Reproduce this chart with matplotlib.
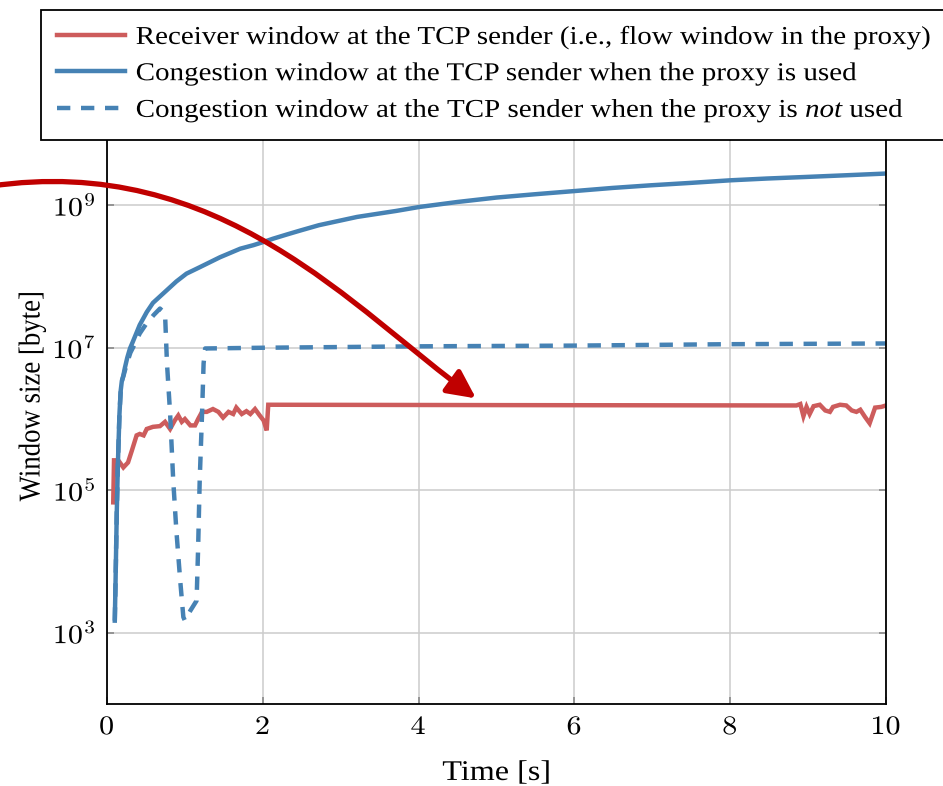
import numpy as np
import matplotlib
matplotlib.use("Agg")
import matplotlib.pyplot as plt
from matplotlib.path import Path
from matplotlib.patches import FancyArrowPatch
from matplotlib.patheffects import AbstractPathEffect
from matplotlib.transforms import Affine2D
from matplotlib.ticker import FixedLocator, NullLocator, FixedFormatter

plt.rcParams["font.family"] = ["Liberation Serif", "DejaVu Serif"]
plt.rcParams["mathtext.fontset"] = "cm"
plt.rcParams["mathtext.rm"] = "Liberation Serif"
plt.rcParams["mathtext.it"] = "Liberation Serif:italic"

# ---- data: time [s] and log10(window size [byte]) ----
rwnd_t = [0.08, 0.09, 0.145, 0.21, 0.27, 0.32, 0.38, 0.42, 0.47, 0.51, 0.59,
          0.68, 0.745, 0.81, 0.87, 0.915, 0.96, 1.00, 1.07, 1.13, 1.17, 1.22,
          1.28, 1.36, 1.43, 1.49, 1.56, 1.62, 1.66, 1.73, 1.79, 1.84, 1.90,
          1.96, 2.01, 2.05, 2.07, 5.0, 8.85, 8.90, 8.94, 8.98, 9.02, 9.07,
          9.15, 9.22, 9.28, 9.32, 9.41, 9.49, 9.56, 9.62, 9.67, 9.73, 9.79,
          9.86, 9.94, 10.0]
rwnd_log = [4.83, 5.42, 5.42, 5.32, 5.39, 5.56, 5.77, 5.79, 5.77, 5.86, 5.89,
            5.90, 5.96, 5.86, 5.98, 6.05, 5.96, 6.00, 5.91, 5.91, 6.00, 6.10,
            6.10, 6.14, 6.10, 6.02, 6.10, 6.07, 6.16, 6.07, 6.11, 6.07, 6.14,
            6.05, 5.98, 5.84, 6.20, 6.195, 6.19, 6.21, 6.04, 6.17, 6.07, 6.18,
            6.20, 6.12, 6.10, 6.17, 6.20, 6.19, 6.12, 6.10, 6.13, 6.03, 5.94,
            6.16, 6.17, 6.19]

cwnd_proxy_t = [0.10, 0.11, 0.125, 0.14, 0.16, 0.176, 0.19, 0.21, 0.23, 0.26,
                0.295, 0.33, 0.36, 0.42, 0.51, 0.59, 0.68, 0.77, 0.89, 1.02,
                1.19, 1.32, 1.45, 1.58, 1.71, 1.88, 2.01, 2.13, 2.31, 2.48,
                2.72, 3.21, 3.71, 4.01, 4.50, 5.00, 5.50, 6.01, 6.49, 6.98,
                7.48, 8.00, 8.47, 8.97, 9.47, 10.0]
cwnd_proxy_log = [3.17, 3.73, 4.67, 5.38, 6.07, 6.40, 6.53, 6.61, 6.72, 6.86,
                  6.99, 7.08, 7.16, 7.32, 7.50, 7.63, 7.72, 7.81, 7.93, 8.04,
                  8.13, 8.20, 8.27, 8.33, 8.39, 8.44, 8.485, 8.53, 8.59, 8.645,
                  8.72, 8.836, 8.92, 8.976, 9.046, 9.108, 9.155, 9.20, 9.243,
                  9.28, 9.313, 9.35, 9.375, 9.397, 9.42, 9.445]

cwnd_noproxy_t = [0.10, 0.11, 0.125, 0.14, 0.16, 0.176, 0.19, 0.21, 0.25,
                  0.30, 0.36, 0.42, 0.50, 0.60, 0.68, 0.745, 0.77, 0.81, 0.85,
                  0.89, 0.94, 0.98, 1.00, 1.07, 1.15, 1.17, 1.19, 1.22, 1.24,
                  1.26, 2.0, 4.0, 6.0, 8.0, 10.0]
cwnd_noproxy_log = [3.17, 3.73, 4.67, 5.38, 6.07, 6.40, 6.53, 6.60, 6.76,
                    6.93, 7.06, 7.20, 7.33, 7.46, 7.55, 7.48, 6.78, 6.08, 5.14,
                    4.44, 3.73, 3.22, 3.17, 3.31, 3.45, 4.20, 5.14, 6.07, 6.78,
                    6.99, 7.00, 7.02, 7.03, 7.05, 7.06]

labels = [
    "Receiver window at the TCP sender (i.e., flow window in the proxy)",
    "Congestion window at the TCP sender when the proxy is used",
    r"Congestion window at the TCP sender when the proxy is $\mathit{not}$ used",
]
xticks = [0, 2, 4, 6, 8, 10]
yticks = [1e3, 1e5, 1e7, 1e9]
ytick_labels = [r"$10^{3}$", r"$10^{5}$", r"$10^{7}$", r"$10^{9}$"]

red = "#cd5c5c"
blue = "#4682b4"
arrow_red = "#c00000"


class Widen(AbstractPathEffect):
    """Draw text glyphs widened by a constant factor around an anchor."""

    def __init__(self, sx=1.0, sy=1.0, anchor="center"):
        super().__init__()
        self.sx, self.sy, self.anchor = sx, sy, anchor

    def draw_path(self, renderer, gc, tpath, affine, rgbFace=None):
        ext = tpath.get_extents()
        if self.anchor == "left":
            cx = ext.x0
        elif self.anchor == "right":
            cx = ext.x1
        else:
            cx = 0.5 * (ext.x0 + ext.x1)
        cy = 0.5 * (ext.y0 + ext.y1)
        local = (Affine2D().translate(-cx, -cy)
                 .scale(self.sx, self.sy).translate(cx, cy))
        renderer.draw_path(gc, tpath, local + affine, rgbFace)


WIDE = 1.13

W, H = 943, 786
fig = plt.figure(figsize=(W / 100, H / 100), dpi=100)
ax = fig.add_axes([107 / W, 1 - 704 / H, (886 - 107) / W, (704 - 134) / H])

lw = 3.2
ax.plot(rwnd_t, 10 ** np.array(rwnd_log), color=red, lw=lw, label=labels[0],
        solid_joinstyle="miter", zorder=3)
ax.plot(cwnd_proxy_t, 10 ** np.array(cwnd_proxy_log), color=blue, lw=lw,
        label=labels[1], zorder=4)
ax.plot(cwnd_noproxy_t, 10 ** np.array(cwnd_noproxy_log), color=blue, lw=lw,
        linestyle=(0, (3.0, 2.4)), label=labels[2], zorder=5)

ax.set_yscale("log")
ax.set_xlim(0, 10)
ax.set_ylim(1e2, 1e10)
ax.xaxis.set_major_locator(FixedLocator(xticks))
ax.xaxis.set_major_formatter(FixedFormatter([rf"${v}$" for v in xticks]))
ax.yaxis.set_major_locator(FixedLocator(yticks))
ax.yaxis.set_major_formatter(FixedFormatter(ytick_labels))
ax.yaxis.set_minor_locator(NullLocator())
ax.xaxis.set_minor_locator(NullLocator())

ax.grid(True, color="#cccccc", lw=1.1, zorder=0)
ax.set_axisbelow(True)
ax.tick_params(direction="in", length=5, width=1.2, color="#888888",
               top=True, right=True, labelsize=19.2)
ax.tick_params(axis="x", pad=8)
ax.tick_params(axis="y", pad=8)
for tk in ax.xaxis.get_major_ticks(len(xticks)):
    tk.label1.set_path_effects([Widen(WIDE, 1.0, "center")])
for tk in ax.yaxis.get_major_ticks(len(yticks)):
    tk.label1.set_path_effects([Widen(WIDE, 1.0, "right")])
for s in ax.spines.values():
    s.set_linewidth(1.3)
    s.set_color("black")
    s.set_zorder(6)

xl = ax.set_xlabel("Time [s]", fontsize=20.5, labelpad=15)
xl.set_path_effects([Widen(WIDE, 1.0, "center")])
yl = ax.set_ylabel("Window size [byte]", fontsize=19.3)
yl.set_path_effects([Widen(1.0, WIDE, "center")])
ax.yaxis.set_label_coords(-0.08, 0.54)

# curved annotation arrow pointing at the receiver window plateau
arrow_verts = [(-1.50, 9.267), (1.451, 9.744), (3.171, 7.525), (4.737, 6.289)]
arrow_path = Path([(x, 10 ** ly) for x, ly in arrow_verts],
                  [Path.MOVETO, Path.CURVE4, Path.CURVE4, Path.CURVE4])
arrow = FancyArrowPatch(path=arrow_path, transform=ax.transData,
                        arrowstyle="-|>,head_length=0.85,head_width=0.42",
                        mutation_scale=20, color=arrow_red, lw=3.8,
                        clip_on=False, zorder=10)
ax.add_patch(arrow)

leg = ax.legend(loc="upper left",
                bbox_to_anchor=(41 / W, 1 - 139 / H, 930 / W, 129 / H),
                bbox_transform=fig.transFigure, mode="expand",
                borderaxespad=0, fontsize=18.5, frameon=True, fancybox=False,
                framealpha=1, edgecolor="black", handlelength=2.65,
                handletextpad=0.42, labelspacing=0.5, borderpad=0.62)
leg.get_frame().set_linewidth(1.3)
leg.set_zorder(20)
for t in leg.get_texts():
    t.set_math_fontfamily("custom")
    t.set_path_effects([Widen(WIDE, 1.0, "left")])

fig.savefig("out.png", dpi=100)
